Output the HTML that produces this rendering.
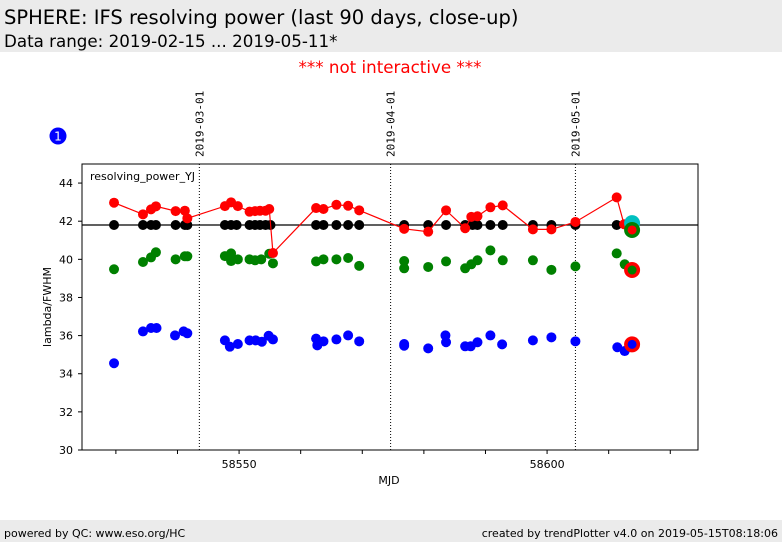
<!DOCTYPE html>
<html><head><meta charset="utf-8">
<style>
body{margin:0;background:#fff;width:782px;height:542px;overflow:hidden;font-family:"Liberation Sans","DejaVu Sans",sans-serif;}
svg{position:absolute;left:0;top:0}
</style></head>
<body>
<svg id="chart" width="782" height="542" xmlns="http://www.w3.org/2000/svg">
  <rect x="0" y="0" width="782" height="52" fill="#ebebeb"/>
  <text x="4" y="24" font-size="19.5" fill="#000" font-family="DejaVu Sans, sans-serif">SPHERE: IFS resolving power (last 90 days, close-up)</text>
  <text x="4" y="47" font-size="16.7" fill="#000" font-family="DejaVu Sans, sans-serif">Data range: 2019-02-15 ... 2019-05-11*</text>
  <text x="390" y="73" font-size="16.7" fill="#ff0000" text-anchor="middle" font-family="DejaVu Sans, sans-serif">*** not interactive ***</text>
  <circle cx="58" cy="136" r="8.5" fill="#0000ff"/>
  <text x="58" y="140.5" font-size="12" fill="#fff" text-anchor="middle" font-family="DejaVu Sans, sans-serif">1</text>
  <rect x="0" y="520" width="782" height="22" fill="#ebebeb"/>
  <text x="4" y="537" font-size="11" fill="#000" font-family="DejaVu Sans, sans-serif">powered by QC: www.eso.org/HC</text>
  <text x="778" y="537" font-size="11" fill="#000" text-anchor="end" font-family="DejaVu Sans, sans-serif">created by trendPlotter v4.0 on 2019-05-15T08:18:06</text>
  <g id="plot"></g>
</svg>
<script>
const xDomain = [58524.5, 58624.5];
const yDomain = [30, 45];
const yTicks = [30, 32, 34, 36, 38, 40, 42, 44];
const xTicks = [58530, 58540, 58550, 58560, 58570, 58580, 58590, 58600, 58610, 58620];
const xTickLabels = ["", "", "58550", "", "", "", "", "58600", "", ""];
const dateLines = [58543.55, 58574.6, 58604.6];
const dateLabels = ["2019-03-01", "2019-04-01", "2019-05-01"];
const refValue = 41.8;

const blackMjd = [58529.7,58534.4,58535.7,58536.5,58539.7,58541.2,58541.6,58547.7,58548.7,58549.6,58551.7,58552.6,58553.4,58554.3,58555.1,58562.5,58563.7,58565.8,58567.7,58569.5,58576.8,58580.7,58583.6,58586.7,58587.9,58588.7,58590.8,58592.8,58597.7,58600.7,58604.6,58611.3];
const blackVal = [41.8,41.8,41.8,41.8,41.8,41.8,41.8,41.8,41.8,41.8,41.8,41.8,41.8,41.8,41.8,41.8,41.8,41.8,41.8,41.8,41.8,41.8,41.8,41.8,41.8,41.8,41.8,41.8,41.8,41.8,41.8,41.8];

const redMjd = [58529.7,58534.4,58535.7,58536.5,58539.7,58541.2,58541.6,58547.7,58548.7,58549.8,58551.7,58552.6,58553.4,58554.3,58554.9,58555.5,58562.5,58563.7,58565.8,58567.7,58569.5,58576.8,58580.7,58583.6,58586.7,58587.7,58588.7,58590.8,58592.8,58597.7,58600.7,58604.6,58611.3,58612.5];
const redVal = [42.97,42.36,42.62,42.78,42.53,42.55,42.15,42.79,42.99,42.79,42.50,42.53,42.55,42.55,42.64,40.33,42.69,42.64,42.86,42.81,42.57,41.60,41.45,42.57,41.63,42.23,42.26,42.73,42.83,41.57,41.57,41.96,43.25,41.84];

const greenMjd = [58529.7,58534.4,58535.7,58536.5,58539.7,58541.2,58541.6,58547.7,58548.7,58548.7,58549.8,58551.7,58552.6,58553.6,58554.9,58555.5,58562.5,58563.7,58565.8,58567.7,58569.5,58576.8,58576.8,58580.7,58583.6,58586.7,58587.7,58588.7,58590.8,58592.8,58597.7,58600.7,58604.6,58611.3,58612.6];
const greenVal = [39.48,39.86,40.10,40.37,40.0,40.16,40.16,40.17,40.31,39.91,40.0,40.0,39.95,40.0,40.29,39.79,39.89,40.0,40.0,40.07,39.66,39.91,39.53,39.60,39.89,39.53,39.74,39.95,40.47,39.95,39.95,39.45,39.63,40.31,39.74];

const blueMjd = [58529.7,58534.4,58535.7,58536.6,58539.6,58541.0,58541.6,58547.7,58548.5,58549.8,58551.7,58552.7,58553.7,58554.8,58555.5,58562.5,58562.7,58563.7,58565.8,58567.7,58569.5,58576.8,58576.8,58580.7,58583.5,58583.6,58586.7,58587.6,58588.7,58590.8,58592.7,58597.7,58600.7,58604.6,58611.4,58612.6];
const blueVal = [34.55,36.22,36.40,36.40,36.01,36.22,36.12,35.75,35.42,35.56,35.75,35.75,35.68,35.99,35.80,35.84,35.49,35.70,35.80,36.01,35.70,35.56,35.47,35.33,36.01,35.65,35.44,35.44,35.65,36.01,35.54,35.75,35.91,35.70,35.39,35.19];

const lastMjd = 58613.8;
const lastBlack = 41.9;
const lastRed = 41.54;
const lastGreen = 39.44;
const lastBlue = 35.54;

const PL = 82, PR = 698, PT = 164, PB = 450;
const xs = v => PL + (v - xDomain[0]) / (xDomain[1] - xDomain[0]) * (PR - PL);
const ys = v => PB - (v - yDomain[0]) / (yDomain[1] - yDomain[0]) * (PB - PT);
const NS = "http://www.w3.org/2000/svg";
const g = document.getElementById('plot');
function mk(tag, attrs, parent) {
  const e = document.createElementNS(NS, tag);
  for (const k in attrs) e.setAttribute(k, attrs[k]);
  (parent || g).appendChild(e);
  return e;
}

let e = mk('rect', {x: PL, y: PT, width: PR - PL, height: PB - PT, fill: '#fff', stroke: '#000', 'stroke-width': 1});



yTicks.forEach(t => {
  const y = ys(t);
  let l = mk('line', {x1: PL - 4, x2: PL, y1: y, y2: y, stroke: '#000'});
  
  
  let tx = mk('text', {x: PL - 9, y: y + 4, 'font-size': 11, 'text-anchor': 'end', 'font-family': 'DejaVu Sans, sans-serif'});
  tx.textContent = t;
  
  
});
xTicks.forEach((t, i) => {
  const x = xs(t);
  let l = mk('line', {x1: x, x2: x, y1: PB, y2: PB + 4, stroke: '#000'});
  
  
  if (xTickLabels[i]) {
    let tx = mk('text', {x: x, y: PB + 18, 'font-size': 11, 'text-anchor': 'middle', 'font-family': 'DejaVu Sans, sans-serif'});
    tx.textContent = xTickLabels[i];
    
    
  }
});
e = mk('text', {x: 389, y: 484, 'font-size': 11, 'text-anchor': 'middle', 'font-family': 'DejaVu Sans, sans-serif'});
e.textContent = 'MJD';


e = mk('text', {x: 0, y: 0, 'font-size': 11, 'text-anchor': 'middle', 'font-family': 'DejaVu Sans, sans-serif', transform: 'translate(51,307) rotate(-90)'});
e.textContent = 'lambda/FWHM';


e = mk('text', {x: 90, y: 180, 'font-size': 11, 'font-family': 'DejaVu Sans, sans-serif'});
e.textContent = 'resolving_power_YJ';



dateLines.forEach((d, i) => {
  const x = xs(d);
  let l = mk('line', {x1: x, x2: x, y1: PT, y2: PB, stroke: '#000', 'stroke-width': 1, 'stroke-dasharray': '1,2'});
  
  
  let tx = mk('text', {x: 0, y: 0, 'font-size': 11, 'font-family': 'DejaVu Sans Mono, Liberation Mono, monospace', transform: `translate(${x + 4},157) rotate(-90)`});
  tx.textContent = dateLabels[i];
  
  
});

e = mk('line', {x1: PL, x2: PR, y1: ys(refValue), y2: ys(refValue), stroke: '#000', 'stroke-width': 1.2});



function dots(mjd, val, color, name) {
  mjd.forEach((m, i) => {
    let c = mk('circle', {cx: xs(m), cy: ys(val[i]), r: 5, fill: color});
    
    
  });
}
dots(greenMjd, greenVal, '#008000', 'green-point');
dots(blueMjd, blueVal, '#0000ff', 'blue-point');
dots(blackMjd, blackVal, '#000000', 'black-point');
const pts = redMjd.map((m, i) => xs(m) + ',' + ys(redVal[i])).concat([xs(lastMjd) + ',' + ys(lastRed)]).join(' ');
e = mk('polyline', {points: pts, fill: 'none', stroke: '#ff0000', 'stroke-width': 1.2});


dots(redMjd, redVal, '#ff0000', 'red-point');

const lx = xs(lastMjd);
e = mk('circle', {cx: lx, cy: ys(lastBlack), r: 8, fill: '#00c0c0'});


e = mk('circle', {cx: lx, cy: ys(lastRed), r: 8, fill: '#008000'});


e = mk('circle', {cx: lx, cy: ys(lastRed), r: 4.5, fill: '#ff0000'});


e = mk('circle', {cx: lx, cy: ys(lastGreen), r: 8, fill: '#ff0000'});


e = mk('circle', {cx: lx, cy: ys(lastGreen), r: 4.5, fill: '#008000'});


e = mk('circle', {cx: lx, cy: ys(lastBlue), r: 8, fill: '#ff0000'});


e = mk('circle', {cx: lx, cy: ys(lastBlue), r: 4.5, fill: '#0000ff'});


</script>
</body></html>
